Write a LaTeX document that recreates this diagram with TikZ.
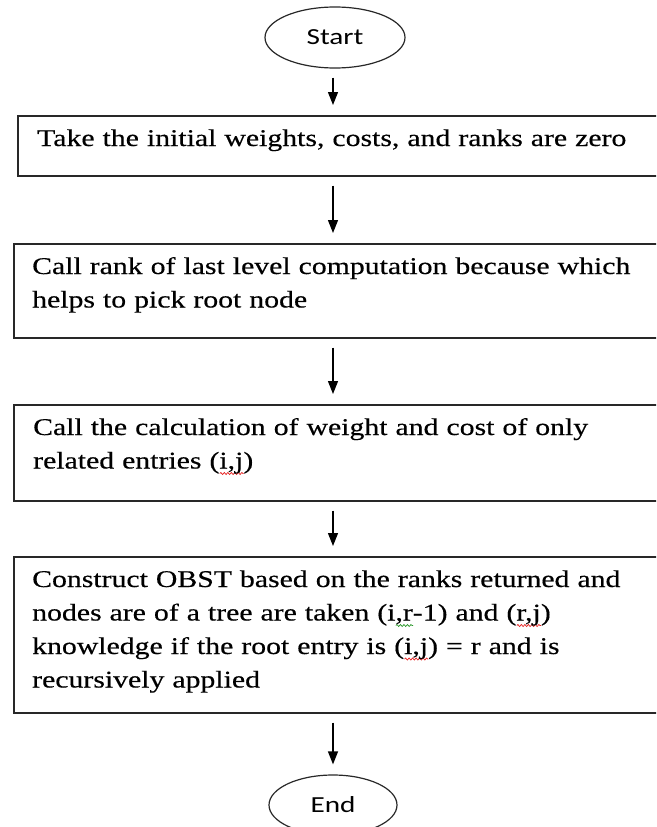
\documentclass[tikz,border=0pt]{standalone}
\usepackage{tikz}
\usepackage{xcolor}
\usepackage{fontspec}
\usetikzlibrary{shapes.geometric,arrows.meta,decorations.pathmorphing}
\setmainfont{Liberation Serif}[FakeStretch=1.24,FakeBold=0.4]
\newfontfamily\ovalfont{Carlito}[FakeStretch=1.27]
\definecolor{boxline}{RGB}{40,40,40}
\definecolor{spellred}{RGB}{230,30,30}
\definecolor{spellgreen}{RGB}{40,150,40}
% spell-check squiggle under a piece of text
\newcommand{\wavy}[2]{\setbox0\hbox{#2}\rlap{\raisebox{-5pt}{\tikz[baseline]
    \draw[#1, line width=0.7pt, decorate, decoration={snake,amplitude=1pt,segment length=3.5pt}]
    (0pt,0pt) -- (\wd0,0pt);}}\box0}

\begin{document}
\begin{tikzpicture}[x=1pt,y=-1pt,
    oval/.style={ellipse, draw=boxline, line width=1.2pt, inner sep=0pt,
        font=\ovalfont\fontsize{23pt}{28pt}\selectfont},
    stepbox/.style={rectangle, draw=boxline, line width=1.6pt, anchor=north west,
        minimum width=680pt},
    boxtext/.style={anchor=base west, text width=624pt, align=left, inner sep=0pt,
        font=\fontsize{24pt}{33.5pt}\selectfont},
    flow/.style={-{Triangle[length=13pt,width=10pt]}, line width=1.2pt,
        shorten <=9pt, shorten >=10pt}]

    % page frame, boxes run out past the right edge
    \useasboundingbox (0,0) rectangle (656,827);
    \clip (0,0) rectangle (656,827);
    \fill[white] (0,0) rectangle (656,827);

    % start and end ovals
    \node[oval, minimum width=140pt, minimum height=61pt] (start) at (335,37.5) {Start};
    \node[oval, minimum width=128pt, minimum height=60pt] (stop) at (333,805) {End};

    % process boxes
    \node[stepbox, minimum height=60pt] (b1) at (17,115) {};
    \node[stepbox, minimum height=94pt] (b2) at (13,243) {};
    \node[stepbox, minimum height=96pt] (b3) at (13,404) {};
    \node[stepbox, minimum height=156pt] (b4) at (13,556) {};

    % box texts
    \node[boxtext] (t1) at ([shift={(20,31)}]b1.north west)
        {Take the initial weights, costs, and ranks are zero};
    \node[boxtext] (t2) at ([shift={(19,31)}]b2.north west)
        {Call rank of last level computation because which\\
         helps to pick root node};
    \node[boxtext] (t3) at ([shift={(20,31)}]b3.north west)
        {Call the calculation of weight and cost of only\\
         related entries (\wavy{spellred}{i,j})};
    \node[boxtext] (t4) at ([shift={(19,31)}]b4.north west)
        {Construct OBST based on the ranks returned and\\
         nodes are of a tree are taken (i\wavy{spellgreen}{,r}-1) and (\wavy{spellred}{r,j})\\
         knowledge if the root entry is (\wavy{spellred}{i,j}) = r and is\\
         recursively applied};

    % arrows down the chart
    \foreach \a/\b in {start/b1,b1/b2,b2/b3,b3/b4,b4/stop}
        \draw[flow] (\a.south -| stop.center) -- (\b.north -| stop.center);

\end{tikzpicture}
\end{document}
